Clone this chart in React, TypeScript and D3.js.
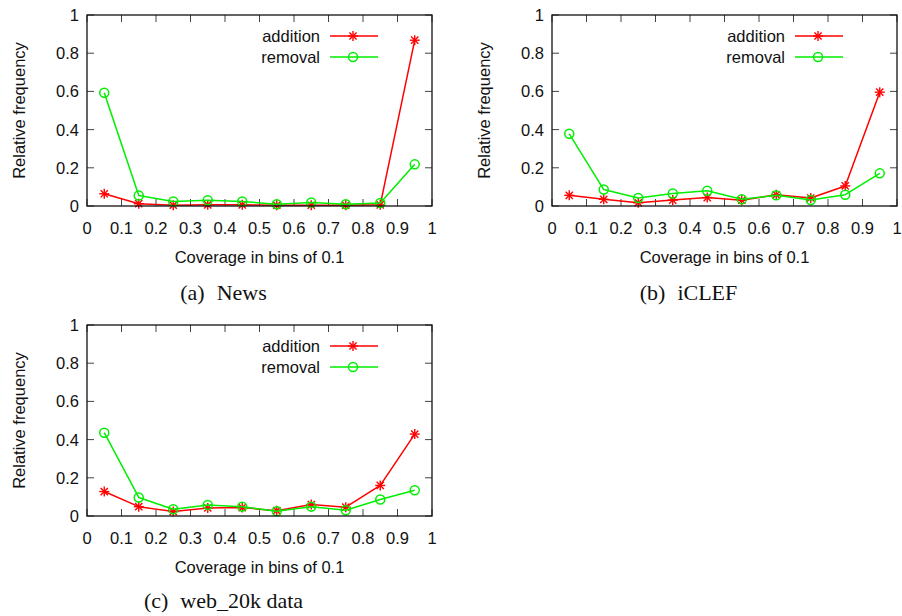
import React from "react";
import * as d3 from "d3";

// bin centres 0.05 .. 0.95
const bins = [0.05, 0.15, 0.25, 0.35, 0.45, 0.55, 0.65, 0.75, 0.85, 0.95];

const newsAddition = [0.064, 0.012, 0.004, 0.006, 0.006, 0.004, 0.004, 0.004, 0.006, 0.868];
const newsRemoval = [0.593, 0.055, 0.024, 0.03, 0.024, 0.009, 0.018, 0.009, 0.016, 0.218];

const iclefAddition = [0.056, 0.035, 0.017, 0.031, 0.044, 0.03, 0.059, 0.042, 0.105, 0.596];
const iclefRemoval = [0.378, 0.086, 0.042, 0.065, 0.08, 0.035, 0.056, 0.031, 0.059, 0.171];

const webAddition = [0.128, 0.049, 0.023, 0.042, 0.044, 0.028, 0.06, 0.046, 0.16, 0.429];
const webRemoval = [0.436, 0.097, 0.035, 0.058, 0.049, 0.025, 0.049, 0.03, 0.086, 0.135];

const xTicks = [0, 0.1, 0.2, 0.3, 0.4, 0.5, 0.6, 0.7, 0.8, 0.9, 1];
const yTicks = [0, 0.2, 0.4, 0.6, 0.8, 1];

const panels = [
  { id: "a", tag: "(a)", name: "News", add: newsAddition, rem: newsRemoval, left: 87, top: 15 },
  { id: "b", tag: "(b)", name: "iCLEF", add: iclefAddition, rem: iclefRemoval, left: 552, top: 15 },
  { id: "c", tag: "(c)", name: "web_20k data", add: webAddition, rem: webRemoval, left: 87, top: 325 },
];

const W = 345;
const H = 191;
const RED = "#ff0000";
const GREEN = "#00ee00";
const SANS = "'Liberation Sans', Arial, Helvetica, sans-serif";
const SERIF = "'Liberation Serif', 'Times New Roman', serif";

const Star = ({ x, y }) => {
  const r = 5;
  const d = r * 0.72;
  return (
    <g stroke={RED} strokeWidth={1.4}>
      <line x1={x - r} y1={y} x2={x + r} y2={y} />
      <line x1={x} y1={y - r} x2={x} y2={y + r} />
      <line x1={x - d} y1={y - d} x2={x + d} y2={y + d} />
      <line x1={x - d} y1={y + d} x2={x + d} y2={y - d} />
    </g>
  );
};

const Ring = ({ x, y }) => (
  <circle cx={x} cy={y} r={4.5} fill="none" stroke={GREEN} strokeWidth={1.5} />
);

const Panel = ({ p }) => {
  const x = d3.scaleLinear().domain([0, 1]).range([p.left, p.left + W]);
  const y = d3.scaleLinear().domain([0, 1]).range([p.top + H, p.top]);
  const line = d3
    .line<number>()
    .x((d, i) => x(bins[i]))
    .y(d => y(d));
  const tick = 7;
  const right = p.left + W;
  const bottom = p.top + H;
  const legX = right - 102;

  return (
    <g>
      {/* ticks, mirrored on all sides */}
      <g stroke="#444" strokeWidth={1}>
        {xTicks.map(t => (
          <g key={"x" + t}>
            <line x1={x(t)} x2={x(t)} y1={bottom} y2={bottom - tick} />
            <line x1={x(t)} x2={x(t)} y1={p.top} y2={p.top + tick} />
          </g>
        ))}
        {yTicks.map(t => (
          <g key={"y" + t}>
            <line x1={p.left} x2={p.left + tick} y1={y(t)} y2={y(t)} />
            <line x1={right} x2={right - tick} y1={y(t)} y2={y(t)} />
          </g>
        ))}
      </g>

      <g fontFamily={SANS} fontSize={16.5} fill="#111">
        {xTicks.map(t => (
          <text key={"xl" + t} x={x(t)} y={bottom + 28} textAnchor="middle">
            {d3.format("~g")(t)}
          </text>
        ))}
        {yTicks.map(t => (
          <text key={"yl" + t} x={p.left - 8} y={y(t)} textAnchor="end" dominantBaseline="central">
            {d3.format("~g")(t)}
          </text>
        ))}
        <text x={p.left + W / 2} y={bottom + 57} textAnchor="middle">
          Coverage in bins of 0.1
        </text>
        <text
          transform={`translate(${p.left - 68},${p.top + H / 2}) rotate(-90)`}
          textAnchor="middle"
          dominantBaseline="central"
        >
          Relative frequency
        </text>

        {/* legend */}
        <text x={legX - 10} y={p.top + 21} textAnchor="end" dominantBaseline="central">
          addition
        </text>
        <text x={legX - 10} y={p.top + 42} textAnchor="end" dominantBaseline="central">
          removal
        </text>
      </g>
      <line x1={legX} x2={legX + 48} y1={p.top + 21} y2={p.top + 21} stroke={RED} strokeWidth={1.5} />
      <Star x={legX + 23} y={p.top + 21} />
      <line x1={legX} x2={legX + 48} y1={p.top + 42} y2={p.top + 42} stroke={GREEN} strokeWidth={1.5} />
      <Ring x={legX + 23} y={p.top + 42} />

      {/* series */}
      <path d={line(p.add)} fill="none" stroke={RED} strokeWidth={1.5} strokeLinejoin="round" />
      {p.add.map((v, i) => (
        <Star key={"s" + i} x={x(bins[i])} y={y(v)} />
      ))}
      <path d={line(p.rem)} fill="none" stroke={GREEN} strokeWidth={1.5} strokeLinejoin="round" />
      {p.rem.map((v, i) => (
        <Ring key={"c" + i} x={x(bins[i])} y={y(v)} />
      ))}

      <rect x={p.left} y={p.top} width={W} height={H} fill="none" stroke="#111" strokeWidth={1.3} />

      <text
        x={p.left + W / 2 - 36}
        y={p.id === "c" ? 608 : 300}
        textAnchor="middle"
        fontFamily={SERIF}
        fontSize={22}
        fill="#111"
      >
        {p.tag}
        <tspan dx={12}>{p.name}</tspan>
      </text>
    </g>
  );
};

const App = () => (
  <svg
    width={902}
    height={616}
    style={{ position: "absolute", left: 0, top: 0, background: "#fff" }}
  >
    <rect width={902} height={616} fill="#fff" />
    {panels.map(p => (
      <Panel key={p.id} p={p} />
    ))}
  </svg>
);

export default App;
